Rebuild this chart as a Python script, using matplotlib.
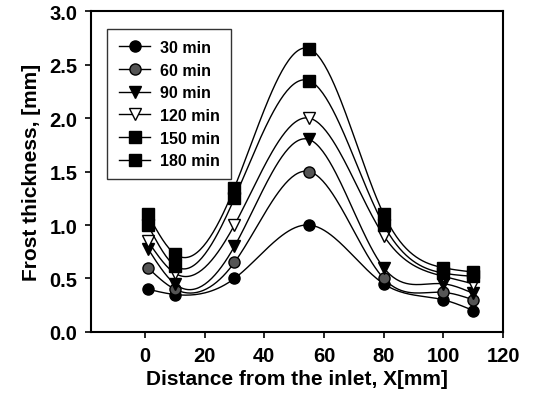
import numpy as np
import matplotlib
matplotlib.use("Agg")
import matplotlib.pyplot as plt

plt.rcParams['font.family'] = ['Liberation Sans', 'DejaVu Sans']
plt.rcParams['font.weight'] = 'bold'

# data
x_pos = [1, 10, 30, 55, 80, 100, 110]
labels = ["30 min", "60 min", "90 min", "120 min", "150 min", "180 min"]
t30 = [0.40, 0.35, 0.50, 1.00, 0.45, 0.30, 0.20]
t60 = [0.60, 0.40, 0.65, 1.50, 0.50, 0.37, 0.30]
t90 = [0.78, 0.45, 0.80, 1.80, 0.60, 0.45, 0.36]
t120 = [0.85, 0.55, 1.00, 2.00, 0.90, 0.52, 0.45]
t150 = [1.00, 0.62, 1.25, 2.35, 1.00, 0.55, 0.52]
t180 = [1.10, 0.73, 1.35, 2.65, 1.10, 0.60, 0.56]

series = [t30, t60, t90, t120, t150, t180]
markers = ['o', 'o', 'v', 'v', 's', 's']
faces = ['black', '#555555', 'black', 'white', 'black', 'black']


def spline(x, y, n=200):
    """ natural cubic spline, only for drawing the smooth line """
    x = np.asarray(x, float)
    y = np.asarray(y, float)
    k = len(x)
    h = np.diff(x)
    A = np.zeros((k, k))
    b = np.zeros(k)
    A[0, 0] = A[-1, -1] = 1
    for i in range(1, k - 1):
        A[i, i - 1] = h[i - 1]
        A[i, i] = 2 * (h[i - 1] + h[i])
        A[i, i + 1] = h[i]
        b[i] = 6 * ((y[i + 1] - y[i]) / h[i] - (y[i] - y[i - 1]) / h[i - 1])
    M = np.linalg.solve(A, b)
    xs = np.linspace(x[0], x[-1], n)
    idx = np.clip(np.searchsorted(x, xs) - 1, 0, k - 2)
    x0, x1 = x[idx], x[idx + 1]
    hh = x1 - x0
    ys = (M[idx] * (x1 - xs) ** 3 / (6 * hh) + M[idx + 1] * (xs - x0) ** 3 / (6 * hh)
          + (y[idx] / hh - M[idx] * hh / 6) * (x1 - xs)
          + (y[idx + 1] / hh - M[idx + 1] * hh / 6) * (xs - x0))
    return xs, ys


fig = plt.figure(figsize=(5.33, 4.06), dpi=100)
ax = fig.add_axes([0.171, 0.18, 0.773, 0.79])

for y, m, fc, lab in zip(series, markers, faces, labels):
    xs, ys = spline(x_pos, y)
    ax.plot(xs, ys, color='black', lw=1.0)
    ax.plot(x_pos, y, linestyle='none', marker=m, ms=8, mfc=fc, mec='black', mew=1.0)
    ax.plot([], [], color='black', lw=1.0, marker=m, ms=8, mfc=fc, mec='black', label=lab)

ax.set_xlim(-18, 120)
ax.set_ylim(0, 3.0)
ax.set_xticks(range(0, 121, 20))
ax.set_yticks(np.arange(0, 3.01, 0.5))
ax.set_yticklabels(["%.1f" % v for v in np.arange(0, 3.01, 0.5)])
ax.tick_params(direction='out', length=4, width=1.2, labelsize=14.5, pad=6)
for s in ax.spines.values():
    s.set_linewidth(1.5)

ax.set_xlabel("Distance from the inlet, X[mm]", fontsize=15, fontweight='bold', labelpad=3)
ax.set_ylabel("Frost thickness, [mm]", fontsize=15, fontweight='bold', labelpad=6)

leg = ax.legend(loc='upper left', bbox_to_anchor=(0.02, 0.97), fontsize=11.5,
                fancybox=False, edgecolor='black', handlelength=2.0,
                borderpad=0.7, labelspacing=0.48, handletextpad=0.6)
leg.get_frame().set_linewidth(1.0)

fig.savefig("out.png", dpi=100)
